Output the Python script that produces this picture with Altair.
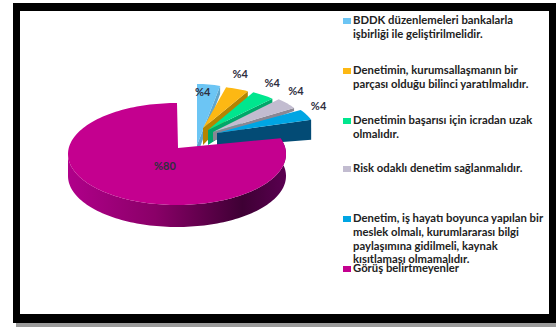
import math

import altair as alt
import pandas as pd

# Survey shares, in drawing order clockwise from twelve o'clock.
shares = [4, 4, 4, 4, 4, 80]
top_colors = ["#6CC5F4", "#FDB813", "#00E68E", "#C2BCD0", "#00A5E3", "#C4008F"]
side_colors = ["#5FA6CC", "#B58400", "#00A76A", "#8A8794", "#034B75", "#7A0060"]
legend_lines = [
    ["BDDK düzenlemeleri bankalarla", "işbirliği ile geliştirilmelidir."],
    ["Denetimin, kurumsallaşmanın bir", "parçası olduğu bilinci yaratılmalıdır."],
    ["Denetimin başarısı için icradan uzak", "olmalıdır."],
    ["Risk odaklı denetim sağlanmalıdır."],
    ["Denetim, iş hayatı boyunca yapılan bir", "meslek olmalı, kurumlararası bilgi",
     "paylaşımına gidilmeli, kaynak", "kısıtlaması olmamalıdır."],
    ["Görüş belirtmeyenler"],
]

W, H = 556, 327

# Pulled-out slices: apex, rim radii, wall depth at apex and rim, label nudge.
exploded = [
    dict(apex=(197, 145), a=93, b=61, d0=10, d1=8, nudge=(-6, 9)),
    dict(apex=(203, 128), a=93, b=42, d0=17, d1=7, nudge=(3, -14)),
    dict(apex=(208, 130), a=94, b=43, d0=15, d1=5, nudge=(9, -11)),
    dict(apex=(213, 132), a=96, b=45, d0=9, d1=3, nudge=(9, -11)),
    dict(apex=(217, 133), a=99, b=43, d0=14, d1=20, nudge=(12, -8)),
]
LARGE = dict(apex=(178, 148), cx=177, cy=154, a=109, b=51, depth=22)


def to_radians(cumulative):
    return math.radians(cumulative * 3.6)


def feature(points, fill):
    ring = [list(p) for p in points] + [list(points[0])]
    return {
        "type": "Feature",
        "properties": {"fill": fill},
        "geometry": {"type": "Polygon", "coordinates": [ring]},
    }


small_features = []
labels = []
start = 0
for i, share in enumerate(shares[:-1]):
    s = exploded[i]
    ax, ay = s["apex"]
    t0, t1 = to_radians(start), to_radians(start + share)
    steps = [t0 + (t1 - t0) * k / 8 for k in range(9)]
    rim = [(ax + s["a"] * math.sin(t), ay - s["b"] * math.cos(t)) for t in steps]
    # wall along the clockwise cut, then the wedge top
    wall = [(ax, ay), rim[-1], (rim[-1][0], rim[-1][1] + s["d1"]), (ax, ay + s["d0"])]
    small_features.append(feature(wall, side_colors[i]))
    small_features.append(feature([(ax, ay)] + rim, top_colors[i]))
    mid = rim[4]
    labels.append(dict(x=mid[0] + s["nudge"][0], y=mid[1] + s["nudge"][1], text=f"%{share}"))
    start += share

# Large slice: sweeps from the end of the small ones round to twelve o'clock.
L = LARGE
t0, t1 = to_radians(start), to_radians(100)
steps = [t0 + (t1 - t0) * k / 160 for k in range(161)]
rim = [(L["cx"] + L["a"] * math.sin(t), L["cy"] - L["b"] * math.cos(t)) for t in steps]
front = [p for p, t in zip(rim, steps) if t <= math.radians(270)]
big_wall_feature = feature(front + [(x, y + L["depth"]) for x, y in reversed(front)], side_colors[-1])
big_top_feature = feature([L["apex"]] + rim, top_colors[-1])
labels.append(dict(x=165, y=167, text=f"%{shares[-1]}"))

wall_gradient = alt.Gradient(
    gradient="linear", x1=0, x2=1, y1=0, y2=0,
    stops=[
        alt.GradientStop(color="#B0008A", offset=0),
        alt.GradientStop(color="#8A0068", offset=0.4),
        alt.GradientStop(color="#3E0034", offset=0.8),
        alt.GradientStop(color="#5A0050", offset=1),
    ],
)

PROJ = dict(type="identity", scale=1, translate=[0, 0])
px_x = alt.Scale(domain=[0, W], range=[0, W])
px_y = alt.Scale(domain=[0, H], range=[0, H])

small = alt.Chart(alt.Data(values=small_features)).mark_geoshape(strokeWidth=0).encode(
    fill=alt.Fill("properties.fill:N", scale=None)
).project(**PROJ)
big_wall = alt.Chart(alt.Data(values=[big_wall_feature])).mark_geoshape(
    strokeWidth=0, fill=wall_gradient
).project(**PROJ)
big_top = alt.Chart(alt.Data(values=[big_top_feature])).mark_geoshape(
    strokeWidth=0, fill=top_colors[-1]
).project(**PROJ)

# Legend rows: swatch on the first line of each entry, wrapped text beneath it.
legend_tops = [21, 71, 121, 169, 219, 269]
LINE = 13.8
text_rows = []
swatch_rows = []
for i, lines in enumerate(legend_lines):
    swatch_rows.append(dict(x=343, x2=351, y=legend_tops[i] - 3, y2=legend_tops[i] + 3, c=top_colors[i]))
    for j, line in enumerate(lines):
        text_rows.append(dict(x=353, y=legend_tops[i] + j * LINE, text=line))

legend_text = alt.Chart(pd.DataFrame(text_rows)).mark_text(
    align="left", baseline="middle", font="Lato", fontWeight="bold", fontSize=11.3, color="#222222"
).encode(x=alt.X("x:Q", scale=px_x, axis=None), y=alt.Y("y:Q", scale=px_y, axis=None), text="text:N")
swatches = alt.Chart(pd.DataFrame(swatch_rows)).mark_rect().encode(
    x=alt.X("x:Q", scale=px_x, axis=None), x2="x2:Q",
    y=alt.Y("y:Q", scale=px_y, axis=None), y2="y2:Q",
    color=alt.Color("c:N", scale=None),
)
value_labels = alt.Chart(pd.DataFrame(labels)).mark_text(
    font="Lato", fontWeight="bold", fontSize=11, color="#2E2E3E"
).encode(x=alt.X("x:Q", scale=px_x, axis=None), y=alt.Y("y:Q", scale=px_y, axis=None), text="text:N")

# Thick black border with a soft drop edge along the bottom.
frame_rows = [
    dict(x=13, x2=W, y=3, y2=11, c="#000000"),
    dict(x=13, x2=20, y=3, y2=323, c="#000000"),
    dict(x=549, x2=W, y=3, y2=323, c="#000000"),
    dict(x=13, x2=W, y=314, y2=323, c="#000000"),
    dict(x=16, x2=W, y=323, y2=327, c="#9A9A9A"),
]
frame = alt.Chart(pd.DataFrame(frame_rows)).mark_rect().encode(
    x=alt.X("x:Q", scale=px_x, axis=None), x2="x2:Q",
    y=alt.Y("y:Q", scale=px_y, axis=None), y2="y2:Q",
    color=alt.Color("c:N", scale=None),
)

chart = (
    alt.layer(frame, small, big_wall, big_top, swatches, legend_text, value_labels)
    .properties(width=W, height=H, padding=0, autosize=alt.AutoSizeParams(type="none"), background="#FFFFFF")
    .configure_view(stroke=None)
)
chart.save("out.html", embed_options={"renderer": "svg", "actions": False})
